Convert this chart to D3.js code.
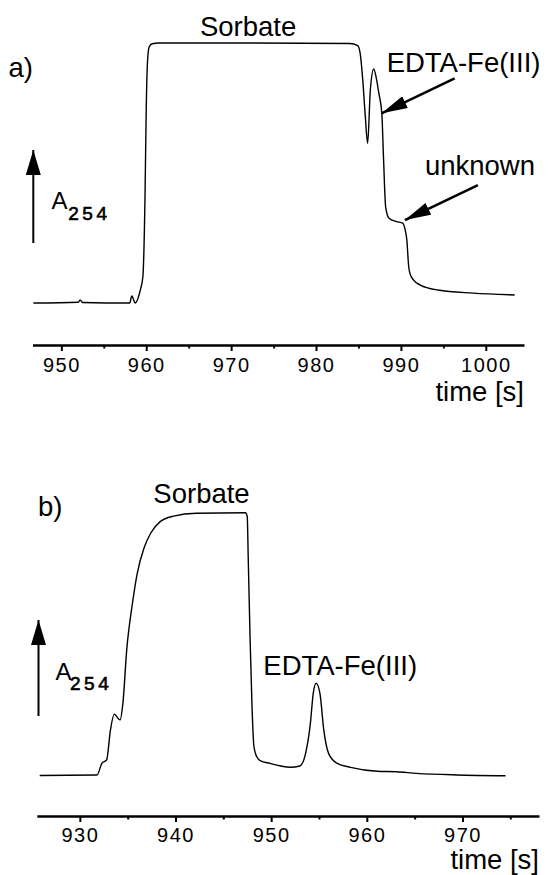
<!DOCTYPE html>
<html>
<head>
<meta charset="utf-8">
<script src="https://cdn.jsdelivr.net/npm/d3@7"></script>
<style>
  body { margin: 0; background: #fff; }
  svg { display: block; background: #fff; }
</style>
</head>
<body>
<svg width="548" height="875"></svg>
<script>
// Panel a) - time [s] and A254 (arbitrary units, flat top of sorbate = 100)
const timeA = [946.7, 952.0, 952.2, 952.5, 958.05, 958.3, 958.7, 959.3, 959.6, 959.85, 960.0, 960.15, 960.35, 960.7, 961.5, 972.0,
  984.0, 984.9, 985.2, 985.5, 985.8, 986.08, 986.4, 986.8, 987.1, 987.4, 987.75, 987.96, 988.2, 988.6, 989.5, 990.2, 990.5,
  990.7, 990.9, 991.05, 991.5, 992.3, 994.35, 998.5, 1003.4];
const absA = [0, 0.3, 1.2, 0.2, 0, 2.7, 0, 5, 10, 40, 75, 93, 98.5, 99.7, 100, 100,
  99.8, 99, 96, 86, 72, 61.4, 82, 90, 86.5, 80.7, 73, 55, 37, 32.6, 31.3, 30.7, 28.1,
  24.2, 14.6, 11.5, 8.8, 6.9, 5.0, 3.8, 3.1];
const majorA = [950, 960, 970, 980, 990, 1000];
const minorA = [955, 965, 975, 985, 995];

// Panel b)
const timeB = [925.8, 931.8, 932.3, 932.8, 933.2, 933.6, 934.2, 934.5, 934.9, 935.5, 936.0, 936.7, 937.4, 938.4, 939.8, 942.2,
  947.3, 947.5, 947.6, 947.8, 948.0, 948.2, 948.5, 948.9, 949.9, 951.0, 952.0, 953.0, 953.6, 954.1, 954.4, 954.7, 955.1,
  955.5, 956.0, 956.9, 958.3, 961.1, 963.1, 965.2, 969.4, 974.5];
const absB = [0.2, 0.4, 4.8, 6.1, 17.5, 23.5, 21.3, 27.6, 47.9, 65.6, 77.0, 86.5, 92.2, 96.6, 98.7, 99.8,
  100, 98.5, 83.3, 51.7, 26.3, 11.1, 7.3, 5.7, 4.8, 3.8, 3.3, 3.8, 8.6, 20.0, 31.4, 35.2, 31.4,
  17.5, 8.6, 4.8, 3.3, 1.8, 1.6, 1.0, 0.4, 0.1];
const majorB = [930, 940, 950, 960, 970];
const minorB = [935, 945, 955, 965, 975];

// annotation texts, placed in data units (time, absorbance)
const labelsA = [
  { text: "Sorbate", t: 972, v: 102.7, anchor: "middle" },
  { text: "EDTA-Fe(III)", t: 988.32, v: 88.96, anchor: "start" },
  { text: "unknown", t: 992.83, v: 49.2, anchor: "start" }
];
const arrowsA = [
  { t: 987.73, v: 72.96 },
  { t: 990.47, v: 31.9 }
];
const labelsB = [
  { text: "Sorbate", t: 942.72, v: 103.7, anchor: "middle" },
  { text: "EDTA-Fe(III)", t: 949.18, v: 38.4, anchor: "start" }
];

const font = "'Liberation Sans', Arial, Helvetica, sans-serif";
const labelSize = 27.5;

let svg = d3.select("svg");
let defs = svg.append("defs");

//arrow heads: one for the A254 axis arrow, one for the annotation arrows
defs.append("marker")
  .attr("id", "headAxis")
  .attr("markerUnits", "userSpaceOnUse")
  .attr("viewBox", "0 0 25 15")
  .attr("refX", 25)
  .attr("refY", 7.5)
  .attr("markerWidth", 25)
  .attr("markerHeight", 15)
  .attr("orient", "auto")
  .append("path")
  .attr("d", "M0,0L25,7.5L0,15Z")
  .attr("fill", "#000");

defs.append("marker")
  .attr("id", "headNote")
  .attr("markerUnits", "userSpaceOnUse")
  .attr("viewBox", "0 0 26 13")
  .attr("refX", 26)
  .attr("refY", 6.5)
  .attr("markerWidth", 26)
  .attr("markerHeight", 13)
  .attr("orient", "auto")
  .append("path")
  .attr("d", "M0,0L26,6.5L0,13Z")
  .attr("fill", "#000");

function drawPanel(p) {
  let x = d3.scaleLinear().domain(p.xDomain).range(p.xRange);
  let y = d3.scaleLinear().domain([0, 100]).range(p.yRange);
  let g = svg.append("g").attr("font-family", font);

  //major ticks with labels
  let axis = g.append("g")
    .attr("class", "x axis")
    .attr("transform", "translate(0," + p.axisY + ")")
    .call(d3.axisBottom(x).tickValues(p.major).tickSize(6).tickSizeOuter(0).tickFormat(d3.format("d")));
  axis.attr("font-family", font).attr("font-size", 20);
  axis.select(".domain").attr("stroke-width", 2.6);
  axis.selectAll(".tick line").attr("stroke-width", 2);
  axis.selectAll(".tick text")
    .attr("fill", "#000")
    .attr("y", p.tickLabelY)
    .attr("dy", 0)
    .attr("letter-spacing", 1.5);

  //minor ticks
  let minor = g.append("g")
    .attr("transform", "translate(0," + p.axisY + ")")
    .call(d3.axisBottom(x).tickValues(p.minor.filter(function(d) {
      return d > p.xDomain[0] && d < p.xDomain[1];
    })).tickSize(3.5).tickFormat(""));
  minor.select(".domain").remove();
  minor.selectAll(".tick line").attr("stroke-width", 2);

  g.append("text")
    .attr("x", p.xRange[1])
    .attr("y", p.axisY + p.titleDy)
    .attr("text-anchor", "end")
    .attr("font-size", labelSize)
    .text("time [s]");

  //trace
  let line = d3.line()
    .x(function(d) { return x(d[0]); })
    .y(function(d) { return y(d[1]); })
    .curve(d3.curveMonotoneX);
  g.append("path")
    .datum(d3.zip(p.time, p.abs))
    .attr("fill", "none")
    .attr("stroke", "#000")
    .attr("stroke-width", 1.4)
    .attr("stroke-linejoin", "round")
    .attr("d", line);

  //A254 arrow
  g.append("line")
    .attr("x1", p.arrow.x).attr("x2", p.arrow.x)
    .attr("y1", p.arrow.y1).attr("y2", p.arrow.y2)
    .attr("stroke", "#000")
    .attr("stroke-width", 2)
    .attr("marker-end", "url(#headAxis)");
  g.append("text")
    .attr("x", p.aLabel.x)
    .attr("y", p.aLabel.y)
    .attr("font-size", 24)
    .text("A");
  g.append("text")
    .attr("x", p.aLabel.x + p.aLabel.subDx)
    .attr("y", p.aLabel.y + p.aLabel.subDy)
    .attr("font-size", 19)
    .attr("stroke", "#000")
    .attr("stroke-width", 0.6)
    .attr("letter-spacing", 3.5)
    .text("254");

  //panel letter
  g.append("text")
    .attr("x", p.tag.x)
    .attr("y", p.tag.y)
    .attr("font-size", labelSize)
    .text(p.tag.text);

  //peak labels
  g.selectAll(".note")
    .data(p.labels)
    .enter()
    .append("text")
    .attr("class", "note")
    .attr("x", function(d) { return x(d.t); })
    .attr("y", function(d) { return y(d.v); })
    .attr("text-anchor", function(d) { return d.anchor; })
    .attr("font-size", labelSize)
    .text(function(d) { return d.text; });

  //pointer arrows, tail sits up and right of the tip
  g.selectAll(".pointer")
    .data(p.arrows)
    .enter()
    .append("line")
    .attr("class", "pointer")
    .attr("x1", function(d) { return x(d.t) + 73; })
    .attr("y1", function(d) { return y(d.v) - 35; })
    .attr("x2", function(d) { return x(d.t); })
    .attr("y2", function(d) { return y(d.v); })
    .attr("stroke", "#000")
    .attr("stroke-width", 2.6)
    .attr("marker-end", "url(#headNote)");
}

drawPanel({
  time: timeA, abs: absA, major: majorA, minor: minorA,
  labels: labelsA, arrows: arrowsA,
  xDomain: [946.6, 1004.5], xRange: [32.5, 524], yRange: [303, 43],
  axisY: 345, tickLabelY: 26.7, titleDy: 56,
  arrow: { x: 33.3, y1: 243, y2: 150 },
  aLabel: { x: 51.5, y: 209.3, subDx: 16.8, subDy: 10.7 },
  tag: { text: "a)", x: 8.5, y: 77 }
});

drawPanel({
  time: timeB, abs: absB, major: majorB, minor: minorB,
  labels: labelsB, arrows: [],
  xDomain: [925.5, 978.0], xRange: [36.8, 539], yRange: [776, 512.7],
  axisY: 816, tickLabelY: 25.5, titleDy: 52.5,
  arrow: { x: 38.5, y1: 716, y2: 620 },
  aLabel: { x: 55.5, y: 680, subDx: 14.5, subDy: 10 },
  tag: { text: "b)", x: 38, y: 516 }
});
</script>
</body>
</html>
